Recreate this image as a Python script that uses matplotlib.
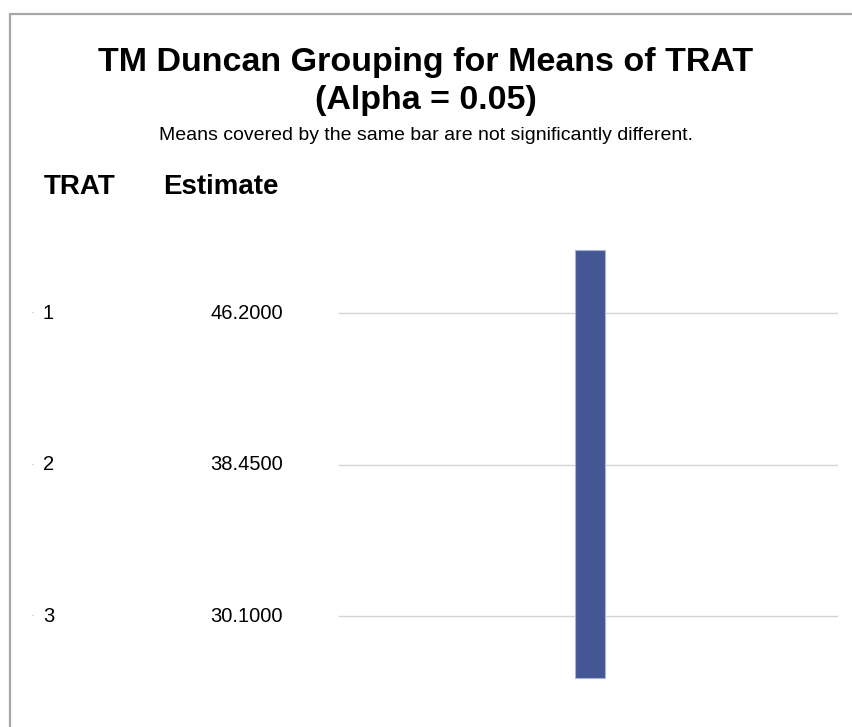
import matplotlib.pyplot as plt
import matplotlib.transforms as mtransforms
from matplotlib.patches import Rectangle

plt.rcParams['font.family'] = ['Liberation Sans', 'DejaVu Sans']

trat = ['1', '2', '3']
estimates = [46.2000, 38.4500, 30.1000]
rows = [1, 2, 3]
# Duncan group bars: (first row, last row)
groups = [(1, 3)]

fig = plt.figure(figsize=(8.52, 7.27), dpi=100)

# gray frame round the graph
fig.patches.append(Rectangle((10 / 852, -0.01), 0.99, 1 - 14 / 727 + 0.01,
                             transform=fig.transFigure, fill=False,
                             edgecolor='#a6a6a6', linewidth=1.6))

fig.text(0.5, 1 - 62 / 727, 'TM Duncan Grouping for Means of TRAT',
         ha='center', va='center', fontsize=24.5, fontweight='bold')
fig.text(0.5, 1 - 100 / 727, '(Alpha = 0.05)',
         ha='center', va='center', fontsize=24.5, fontweight='bold')
fig.text(0.5, 1 - 135 / 727,
         'Means covered by the same bar are not significantly different.',
         ha='center', va='center', fontsize=14)
fig.text(44 / 852, 1 - 187 / 727, 'TRAT', ha='left', va='center',
         fontsize=20, fontweight='bold')
fig.text(163 / 852, 1 - 187 / 727, 'Estimate', ha='left', va='center',
         fontsize=20, fontweight='bold')

ax = fig.add_axes([338 / 852, 0.0277, 500 / 852, 0.708])
ax.set_xlim(0, 1)
ax.set_ylim(3.6, 0.2)
ax.axis('off')

ax.hlines(rows, 0, 1, color='#d4d4d4', linewidth=1, zorder=1)
for first, last in groups:
    ax.bar(0.504, (last + 0.41) - (first - 0.42), bottom=first - 0.42,
           width=0.06, color='#445694', edgecolor='#aab4d8', linewidth=0.8,
           zorder=3)

trans = mtransforms.blended_transform_factory(fig.transFigure, ax.transData)
for r, t, e in zip(rows, trat, estimates):
    ax.text(33 / 852, r, '·', transform=trans, ha='center', va='center',
            fontsize=8, color='#999999', clip_on=False)
    ax.text(43 / 852, r, t, transform=trans, ha='left', va='center',
            fontsize=14.5, clip_on=False)
    ax.text(283 / 852, r, f'{e:.4f}', transform=trans, ha='right',
            va='center', fontsize=14.5, clip_on=False)

fig.savefig('out.png', dpi=100)
